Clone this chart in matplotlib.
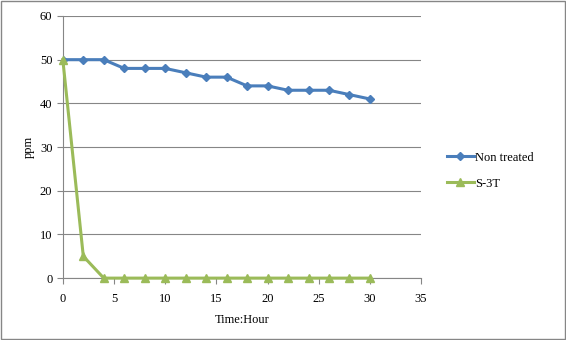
import matplotlib.pyplot as plt

hours = [0, 2, 4, 6, 8, 10, 12, 14, 16, 18, 20, 22, 24, 26, 28, 30]
non_treated = [50, 50, 50, 48, 48, 48, 47, 46, 46, 44, 44, 43, 43, 43, 42, 41]
s3t = [50, 5, 0, 0, 0, 0, 0, 0, 0, 0, 0, 0, 0, 0, 0, 0]

plt.rcParams['font.family'] = ['Liberation Serif', 'DejaVu Serif']

fig = plt.figure(figsize=(5.66, 3.40), dpi=100)
ax = fig.add_axes([0.111, 0.182, 0.633, 0.771])

blue = '#4A7EBB'
green = '#9BBB59'
ax.plot(hours, non_treated, color=blue, lw=2.2, marker='D', ms=4.5,
        label='Non treated', zorder=3)
ax.plot(hours, s3t, color=green, lw=2.2, marker='^', ms=6,
        label='S-3T', zorder=3, clip_on=False)

ax.set_xlim(0, 35)
ax.set_ylim(0, 60)
ax.set_xticks(range(0, 36, 5))
ax.set_yticks(range(0, 61, 10))
ax.grid(axis='y', color='#868686', lw=0.8)
ax.set_axisbelow(True)
for s in ['top', 'right']:
    ax.spines[s].set_visible(False)
ax.spines['left'].set_color('#868686')
ax.spines['bottom'].set_color('#868686')
ax.tick_params(axis='both', colors='#868686', labelcolor='black',
               labelsize=9, length=4, direction='out')
ax.tick_params(axis='x', pad=7)

ax.set_xlabel('Time:Hour', fontsize=9, labelpad=6)
ax.set_ylabel('ppm', fontsize=9, labelpad=4)

ax.legend(loc='center left', bbox_to_anchor=(1.04, 0.41), frameon=False,
          fontsize=9, handlelength=2.2, handletextpad=0.1, labelspacing=1.1)

fig.patches.append(plt.Rectangle((0.001, 0.002), 0.997, 0.995,
                                 transform=fig.transFigure, fill=False,
                                 edgecolor='#868686', lw=1))

fig.savefig('out.png', dpi=100)
